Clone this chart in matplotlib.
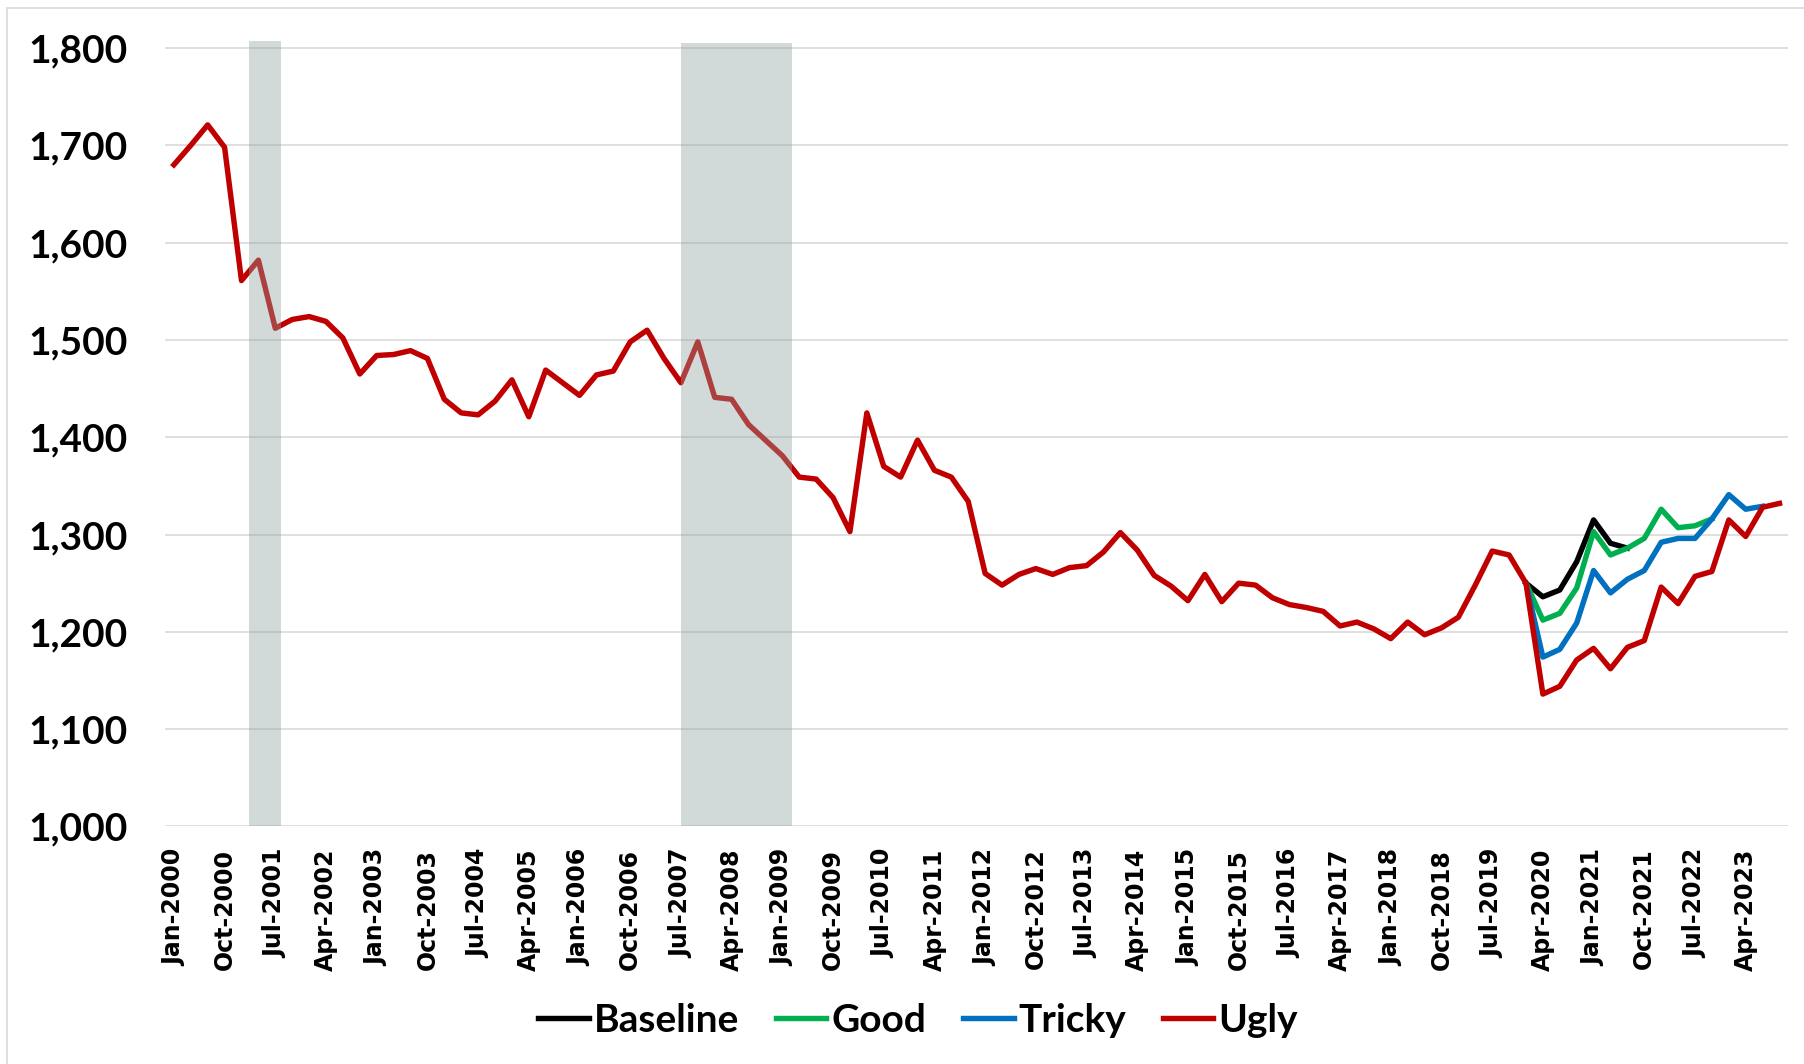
import matplotlib
matplotlib.use("Agg")
import matplotlib.pyplot as plt
from matplotlib.lines import Line2D
import numpy as np
import pandas as pd

# quarterly categories, Jan-2000 .. Oct-2023
quarters = pd.date_range("2000-01-01", periods=96, freq="QS")
quarter_labels = [d.strftime("%b-%Y") for d in quarters]

# common history + "Ugly" scenario (full length)
ugly = [1680, 1700, 1721, 1698, 1561, 1582, 1512, 1521, 1524, 1519,
        1502, 1465, 1484, 1485, 1489, 1481, 1439, 1425, 1423, 1437,
        1459, 1421, 1469, 1456, 1443, 1464, 1468, 1498, 1510, 1481,
        1456, 1498, 1441, 1439, 1413, 1397, 1381, 1359, 1357, 1338,
        1303, 1425, 1370, 1359, 1397, 1366, 1359, 1334, 1260, 1248,
        1259, 1265, 1259, 1266, 1268, 1282, 1302, 1284, 1258, 1247,
        1232, 1259, 1231, 1250, 1248, 1235, 1228, 1225, 1221, 1206,
        1210, 1203, 1193, 1210, 1197, 1204, 1215, 1248, 1283, 1279,
        1250, 1136, 1144, 1171, 1183, 1162, 1184, 1191, 1246, 1229,
        1257, 1262, 1315, 1298, 1328, 1332]

# scenarios start at Jan-2020 (index 80)
scen_start = 80
baseline = [1250, 1236, 1243, 1272, 1315, 1291, 1286]
good = [1250, 1212, 1219, 1245, 1303, 1279, 1286, 1296, 1326, 1307, 1309, 1316]
tricky = [1250, 1174, 1182, 1209, 1263, 1240, 1254, 1263, 1292, 1296, 1296,
          1316, 1341, 1326, 1329]

# recession shading (category positions) and bar tops
rec_start = [4.44, 30.0]
rec_end = [6.31, 36.6]
rec_top = [1807, 1805]

series_names = ["Baseline", "Good", "Tricky", "Ugly"]
series_colors = ["#000000", "#00b050", "#0070c0", "#c00000"]

fig = plt.figure(figsize=(18.04, 10.64), dpi=100)
ax = fig.add_axes([0.0917, 0.2233, 0.8994, 0.7407])

for name, vals, col in zip(series_names,
                           [baseline, good, tricky, ugly], series_colors):
    start = 0 if name == "Ugly" else scen_start
    x = np.arange(start, start + len(vals))
    ax.plot(x, vals, color=col, lw=3.9, label=name, zorder=3,
            solid_joinstyle="round")

for s, e, t in zip(rec_start, rec_end, rec_top):
    ax.fill_between([s, e], 1000, t, color=(0.565, 0.635, 0.627),
                    alpha=0.4, lw=0, zorder=4)

ax.set_xlim(-0.5, 95.5)
ax.set_ylim(1000, 1810)
ax.set_yticks(np.arange(1000, 1801, 100))
ax.set_yticklabels([f"{v:,}" for v in range(1000, 1801, 100)],
                   fontfamily="Lato", fontweight="bold", fontsize=28)
ax.grid(axis="y", color="#d9d9d9", lw=1.2, zorder=1)
ax.set_axisbelow(True)

tick_pos = np.arange(0, 96, 3)
ax.set_xticks(tick_pos)
ax.set_xticklabels([quarter_labels[i] for i in tick_pos], rotation=90,
                   fontfamily=["DejaVu Sans"], fontweight="bold", fontsize=17)
ax.tick_params(axis="x", length=0, pad=16)
ax.tick_params(axis="y", length=0, pad=27)
for sp in ax.spines.values():
    sp.set_visible(False)

leg = fig.legend(loc="center", bbox_to_anchor=(918 / 1804, 1 - 1020 / 1064),
                 ncol=4, frameon=False, handlelength=1.3, handletextpad=0.12,
                 columnspacing=0.95,
                 prop={"family": "Lato", "weight": "bold", "size": 28})
for h in leg.get_lines():
    h.set_linewidth(3.9)

# chart area border (left and top edges)
fig.add_artist(Line2D([7 / 1804, 7 / 1804], [0, 1 - 8 / 1064],
                      color="#d9d9d9", lw=1.2, transform=fig.transFigure))
fig.add_artist(Line2D([7 / 1804, 1], [1 - 8 / 1064, 1 - 8 / 1064],
                      color="#d9d9d9", lw=1.2, transform=fig.transFigure))

fig.savefig("out.png", dpi=100)
